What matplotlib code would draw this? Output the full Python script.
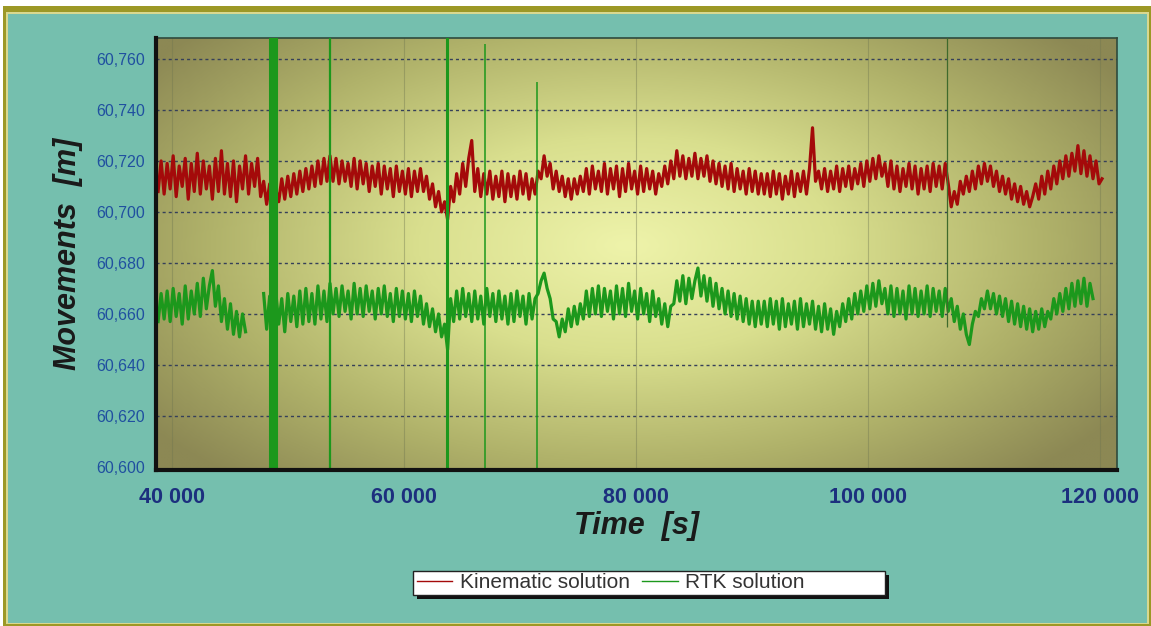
import numpy as np
import matplotlib
matplotlib.use("Agg")
import matplotlib.pyplot as plt
from matplotlib.patches import Rectangle
from matplotlib.colors import LinearSegmentedColormap

# ---------------- data ----------------
sample_interval_s = 260
kinematic_start_s = 38800
# Kinematic solution, millimetres above 60 m
kinematic_mm = [
    708, 720, 707, 719, 709, 722, 706, 718, 710, 721, 705, 719, 708, 723, 707, 720, 709, 718, 705, 721,
    708, 724, 707, 719, 706, 720, 704, 718, 709, 722, 707, 719, 710, 721, 706,
    712, 703, 711, 701, 709,
    704, 713, 705, 714, 706, 715, 707, 716, 708, 717, 709, 718, 710, 720, 711, 721, 712, 722,
    712, 721, 711, 720, 712, 719, 710, 721, 709, 720, 711, 719, 708, 718, 710, 719, 707, 718, 709, 717,
    706, 718, 708, 716, 707, 717, 706, 716, 708, 717,
    708, 714, 705, 711, 702, 708, 700, 704, 697,
    710, 704, 715, 707, 719, 710, 721, 728,
    708, 717, 706, 715, 707, 716, 705, 714, 706, 716, 704, 715, 706, 714, 705, 716, 707, 715, 705, 713, 707,
    716, 713, 722, 714,
    719, 709, 716, 708, 714, 706, 713, 705, 713, 707, 714,
    708, 717, 707, 718, 709, 716, 708, 719, 707, 717, 709, 718, 706, 717, 708, 719, 709, 716, 707, 718,
    708, 717, 709, 716, 707, 715,
    710, 718, 711, 720, 713, 724, 714, 722, 713, 721, 714, 723, 713, 721,
    714, 722, 712, 720, 711, 719, 710, 718, 709, 719, 708, 717, 709, 716, 707, 717, 708, 716, 707, 715,
    707, 715, 706, 716, 707, 715, 705, 714, 707, 716, 706, 715, 708, 716, 707, 717,
    733, 712,
    716, 709, 717, 708, 716, 709, 718, 708, 717, 710, 718, 709, 717, 711, 719, 710, 720, 712, 721, 713, 722, 714,
    719, 710, 720, 709, 718, 708, 717, 710, 719, 709, 718, 707, 717, 709, 718, 708, 719, 710, 718, 709, 719, 711,
    702, 708, 703,
    712, 707, 714, 708, 716, 709, 718, 711, 719, 712, 718, 710, 716, 708, 714, 707, 713, 705, 711, 704,
    710, 703, 708, 702, 706,
    711, 705, 714, 707, 716, 709, 718, 711, 720, 713, 722, 714, 723, 716, 726, 715, 724, 714, 722, 713,
    720, 711, 713,
]

# RTK solution, millimetres above 60 m (two pieces, gap between them)
rtk_seg1_start_s = 38800
rtk_seg1_mm = [
    657, 668, 658, 669, 657, 670, 659, 668, 656, 671, 658, 669, 660, 672, 659, 674, 662, 671, 677, 663,
    671, 657, 666, 654, 664, 652, 661, 651, 660, 653,
]
rtk_seg2_start_s = 47900
rtk_seg2_mm = [
    668, 654, 667, 655, 669, 656, 666, 653, 668, 657, 667, 655, 669, 656, 670, 657, 668, 656, 671, 658,
    669, 657, 672,
    660, 670, 659, 671, 661, 669, 658, 672, 660, 670, 659, 671, 661, 669, 658, 670, 660, 671, 659, 668,
    657, 670, 659, 669, 658, 668, 657, 669, 659, 667,
    656, 664, 655, 662, 653, 660, 651, 656, 646,
    666, 657, 669, 658, 670, 659, 668, 657, 669, 658, 667, 656, 670, 659, 668, 657, 669, 658, 667, 656,
    668, 657, 669, 659, 667, 656, 668, 658, 666,
    668, 673, 676, 670,
    666, 658, 657, 651, 658, 653, 662, 655, 663, 656, 664,
    658, 669, 659, 670, 660, 671, 659, 670, 661, 669, 658, 671, 660, 670, 659, 672, 661, 669, 658, 670,
    660, 668, 657, 669, 659, 666,
    656, 664, 655, 663,
    664, 673, 665, 675, 664, 674, 666, 673, 678, 667, 675, 665, 674, 663, 672,
    662, 670, 660, 669, 659, 668, 658, 667, 657, 666, 656, 665, 655, 665, 656,
    665, 655, 666, 656, 665, 654, 666, 655, 664, 656, 665, 654, 666, 655, 664, 656, 665, 654, 663, 653,
    664, 654, 662, 652, 661,
    655, 664, 657, 666, 658, 668, 660, 669, 661, 671, 662, 672, 663, 673, 664,
    670, 660, 671, 659, 670, 660, 669, 658, 671, 660, 670, 659, 669, 660, 671, 659, 670, 661, 669, 659,
    670, 661,
    666, 657, 663, 654, 660, 652, 648, 656, 661, 659, 666, 662, 669,
    662, 668, 660, 667, 659, 666, 657, 665, 656, 664, 655, 663, 654, 662, 653, 661, 654, 662, 655, 661,
    658, 666, 660, 668, 661, 670, 662, 672, 663, 673, 664, 674, 663, 672, 666,
]

# RTK outlier epochs (vertical jumps of the RTK trace), metres
rtk_outlier_time_s = [48450, 48620, 48790, 48960, 53620, 63700, 66980, 71460, 106800]
rtk_outlier_low_m = [60.55, 60.55, 60.55, 60.55, 60.55, 60.55, 60.55, 60.55, 60.655]
rtk_outlier_high_m = [60.80, 60.80, 60.80, 60.80, 60.80, 60.80, 60.766, 60.751, 60.80]

x_ticks = [40000, 60000, 80000, 100000, 120000]
x_tick_labels = ["40 000", "60 000", "80 000", "100 000", "120 000"]
y_ticks = [60.600, 60.620, 60.640, 60.660, 60.680, 60.700, 60.720, 60.740, 60.760]
y_tick_labels = ["60,600", "60,620", "60,640", "60,660", "60,680", "60,700", "60,720", "60,740", "60,760"]

series_labels = ["Kinematic solution", "RTK solution"]

# ---------------- figure ----------------
W, H = 1151, 626
plt.rcParams['font.family'] = ['Liberation Sans', 'DejaVu Sans']
fig = plt.figure(figsize=(W / 100, H / 100), dpi=100, facecolor='white')


def px_rect(x0, y0, x1, y1, **kw):
    r = Rectangle((x0 / W, 1 - y1 / H), (x1 - x0) / W, (y1 - y0) / H,
                  transform=fig.transFigure, **kw)
    fig.add_artist(r)
    return r


# outer frame
px_rect(3, 6, 1151, 626, facecolor='#9c9826', edgecolor='none', zorder=-10)
px_rect(6, 12, 1149, 624, facecolor='#d8d890', edgecolor='none', zorder=-9)
px_rect(8, 14, 1147, 623, facecolor='#75bfae', edgecolor='none', zorder=-8)

ax = fig.add_axes([156 / W, 1 - 470 / H, (1117 - 156) / W, (470 - 38) / H])
ax.set_xlim(38620, 121470)
ax.set_ylim(60.5988, 60.7682)

# radial gradient background of the plot area
gx = np.linspace(0, 1, 400)
gy = np.linspace(0, 1, 200)
GX, GY = np.meshgrid(gx, gy)
R = np.sqrt(((GX - 0.49) / 0.62) ** 2 + ((GY - 0.52) / 0.72) ** 2)
R = np.clip(R, 0, 1)
cmap = LinearSegmentedColormap.from_list(
    'bg', [(0.0, '#eef3aa'), (0.35, '#d9df8e'), (0.7, '#b0b26a'), (1.0, '#8c8854')])
ax.imshow(R, cmap=cmap, vmin=0, vmax=1, extent=(0, 1, 0, 1), transform=ax.transAxes,
          aspect='auto', origin='lower', zorder=0, interpolation='bilinear')
ax.set_facecolor('none')

# grid
for yv in y_ticks[1:]:
    ax.axhline(yv, color='#36405a', lw=1.0, dashes=(2.2, 2.2), zorder=1)
for xv in x_ticks:
    ax.axvline(xv, color='#6f7650', lw=0.8, alpha=0.4, zorder=1)

# series
kin_t = kinematic_start_s + sample_interval_s * np.arange(len(kinematic_mm))
kin_y = 60.0 + np.array(kinematic_mm) / 1000.0
rtk1_t = rtk_seg1_start_s + sample_interval_s * np.arange(len(rtk_seg1_mm))
rtk1_y = 60.0 + np.array(rtk_seg1_mm) / 1000.0
rtk2_t = rtk_seg2_start_s + sample_interval_s * np.arange(len(rtk_seg2_mm))
rtk2_y = 60.0 + np.array(rtk_seg2_mm) / 1000.0

red = '#a40a0a'
green = '#1c981c'
lw_series = 2.3
ax.plot(kin_t, kin_y, color=red, lw=lw_series, zorder=3, label=series_labels[0])
ax.plot(rtk1_t, rtk1_y, color=green, lw=lw_series, zorder=4, label=series_labels[1])
ax.plot(rtk2_t, rtk2_y, color=green, lw=lw_series, zorder=4)

spike_widths = [2.2, 2.2, 2.2, 2.2, 1.6, 2.2, 1.1, 1.1, 0.9]
spike_colors = [green] * 8 + ['#3f6a2c']
ax.vlines(rtk_outlier_time_s, rtk_outlier_low_m, rtk_outlier_high_m,
          colors=spike_colors, linewidths=spike_widths, zorder=5)

# axes styling
for s in ['left', 'bottom']:
    ax.spines[s].set_linewidth(3)
    ax.spines[s].set_color('#111111')
for s in ['top', 'right']:
    ax.spines[s].set_linewidth(1.2)
    ax.spines[s].set_color('#2f4a3c')
ax.spines['left'].set_zorder(6)
ax.spines['bottom'].set_zorder(6)

ax.set_xticks(x_ticks)
ax.set_xticklabels(x_tick_labels, fontsize=15.5, fontweight='bold', color='#1c2f7e')
ax.set_yticks(y_ticks)
ax.set_yticklabels(y_tick_labels, fontsize=11.5, color='#2050a0')
ax.tick_params(axis='x', length=0, pad=12)
ax.tick_params(axis='y', length=0, pad=8)

ax.set_xlabel('Time  [s]', fontsize=22, fontweight='bold', fontstyle='italic', color='#1a1a1a')
ax.xaxis.set_label_coords(0.5, -0.095)
ax.set_ylabel('Movements  [m]', fontsize=22, fontweight='bold', fontstyle='italic', color='#1a1a1a')
ax.yaxis.set_label_coords(-0.092, 0.5)
ax.yaxis.label.set_va('center')

# legend box with shadow
px_rect(417, 575, 889, 599, facecolor='#111111', edgecolor='none', zorder=5)
px_rect(413, 571, 885, 595, facecolor='white', edgecolor='#222222', lw=1, zorder=6)
handles, labels = ax.get_legend_handles_labels()
leg = fig.legend(handles, labels, loc='center left', bbox_to_anchor=(417 / W, 1 - 583 / H),
                 ncol=2, frameon=False, fontsize=15, handlelength=1.7, handletextpad=0.35,
                 columnspacing=0.6, borderpad=0, borderaxespad=0)
leg.set_zorder(7)
for t in leg.get_texts():
    t.set_color('#333333')
for l in leg.get_lines():
    l.set_linewidth(1.0)

fig.savefig('out.png', dpi=100, facecolor=fig.get_facecolor())
